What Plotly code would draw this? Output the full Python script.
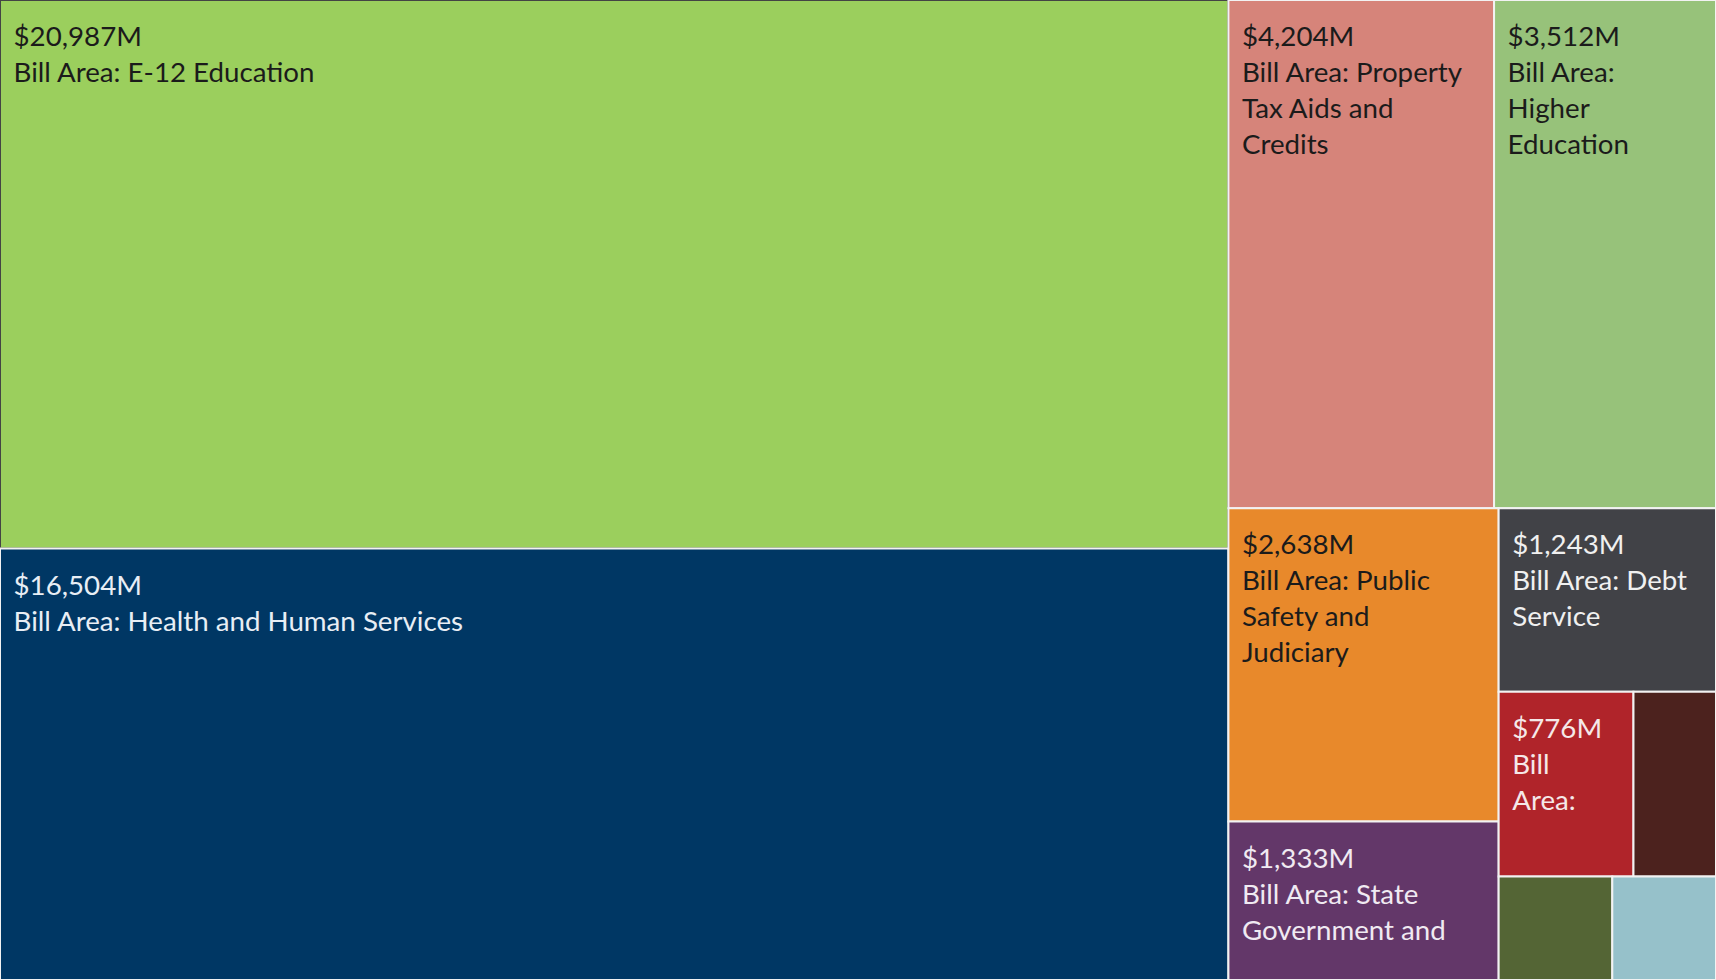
import plotly.graph_objects as go

names = [
    "E-12 Education",
    "Health and Human Services",
    "Property Tax Aids and Credits",
    "Higher Education",
    "Public Safety and Judiciary",
    "State Government and Veterans",
    "Debt Service",
    "Environment and Natural Resources",
    "Jobs and Economic Development",
    "Agriculture and Housing",
    "Transportation",
]
values = [20987, 16504, 4204, 3512, 2638, 1333, 1243, 776, 475, 366, 334]
labels_shown = [
    "$20,987M<br>Bill Area: E-12 Education",
    "$16,504M<br>Bill Area: Health and Human Services",
    "$4,204M<br>Bill Area: Property<br>Tax Aids and<br>Credits",
    "$3,512M<br>Bill Area:<br>Higher<br>Education",
    "$2,638M<br>Bill Area: Public<br>Safety and<br>Judiciary",
    "$1,333M<br>Bill Area: State<br>Government and",
    "$1,243M<br>Bill Area: Debt<br>Service",
    "$776M<br>Bill<br>Area:",
    "",
    "",
    "",
]
colors = ["#9BCF5D", "#003764", "#D6847A", "#97C27A", "#E8892B", "#633769",
          "#414247", "#B0242A", "#4C221E", "#546535", "#96C1CA"]
text_colors = ["#1b1b1b", "#e8eef5", "#1b1b1b", "#1b1b1b", "#1b1b1b", "#f0eaf2",
               "#f0f0f0", "#f5e8e8", "#ffffff", "#ffffff", "#1b1b1b"]

pad = "&nbsp;&#8201;"
spacer = "<span style='font-size:7px'>&nbsp;</span><br>"
texts = [(spacer + "<br>".join(pad + ln for ln in t.split("<br>")) if t else "")
         for t in labels_shown]

fig = go.Figure(go.Treemap(
    labels=names,
    parents=[""] * len(names),
    values=values,
    text=texts,
    textinfo="text",
    textposition="top left",
    textfont=dict(family="Lato", size=27.7, color=text_colors),
    marker=dict(colors=colors, line=dict(color="#f2f2f2", width=2),
                pad=dict(t=0, l=0, r=0, b=0)),
    tiling=dict(packing="squarify", squarifyratio=1.5, pad=0),
    sort=True,
    pathbar=dict(visible=False),
    hoverinfo="skip",
))
fig.update_layout(
    width=1716, height=980,
    margin=dict(l=0, r=0, t=0, b=0),
    paper_bgcolor="white",
    showlegend=False,
)
fig.write_html("out.html", config={"displayModeBar": False},
               post_script="document.body.style.margin='0';")
